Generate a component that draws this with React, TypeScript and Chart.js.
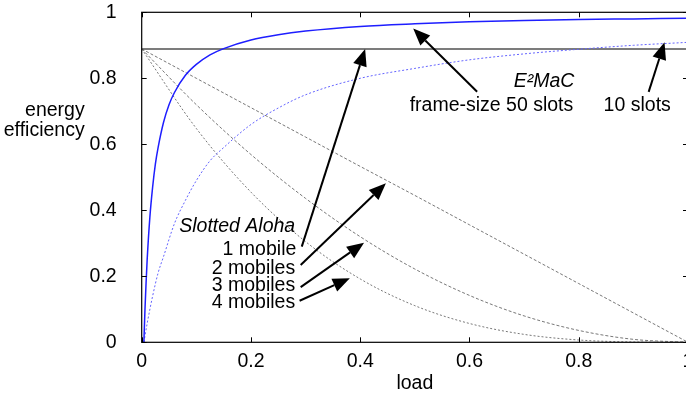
import React, { useEffect, useRef } from "react";
import { Chart, registerables } from "chart.js";

Chart.register(...registerables);

// E2MaC, frame-size 50 slots
const load50 = [0.004, 0.006, 0.008, 0.01, 0.015, 0.02, 0.025, 0.03, 0.04, 0.05, 0.06, 0.08, 0.1, 0.125, 0.15, 0.2, 0.25, 0.3, 0.4, 0.5, 0.6, 0.7, 0.8, 0.9, 1.0];
const eff50 = [0, 0.1, 0.18, 0.25, 0.38, 0.47, 0.54, 0.59, 0.667, 0.72, 0.757, 0.809, 0.842, 0.871, 0.89, 0.916, 0.932, 0.943, 0.957, 0.965, 0.971, 0.975, 0.978, 0.98, 0.982];

// E2MaC, 10 slots
const load10 = [0.004, 0.01, 0.02, 0.03, 0.04, 0.06, 0.08, 0.1, 0.125, 0.15, 0.2, 0.25, 0.3, 0.4, 0.5, 0.6, 0.7, 0.8, 0.9, 1.0];
const eff10 = [0, 0.057, 0.14, 0.21, 0.26, 0.36, 0.43, 0.49, 0.55, 0.59, 0.66, 0.71, 0.75, 0.8, 0.83, 0.856, 0.874, 0.888, 0.9, 0.909];

// Slotted Aloha
const loadAloha = [0, 0.1, 0.2, 0.3, 0.4, 0.5, 0.6, 0.7, 0.8, 0.9, 1.0];
const aloha1 = [0.889, 0.889, 0.889, 0.889, 0.889, 0.889, 0.889, 0.889, 0.889, 0.889, 0.889];
const aloha2 = [0.889, 0.8, 0.711, 0.622, 0.533, 0.445, 0.356, 0.267, 0.178, 0.089, 0];
const aloha3 = [0.889, 0.72, 0.569, 0.436, 0.32, 0.222, 0.142, 0.08, 0.036, 0.009, 0];
const aloha4 = [0.889, 0.648, 0.455, 0.305, 0.192, 0.111, 0.057, 0.024, 0.007, 0.001, 0];

const xTicks = [0, 0.2, 0.4, 0.6, 0.8, 1];
const yTicks = [0, 0.2, 0.4, 0.6, 0.8, 1];

const xTitle = "load";
const yTitleLines = ["energy", "efficiency"];

const FONT = '"Liberation Sans", Arial, sans-serif';
const FS = 19.5;

// annotation texts (data coordinates)
const notes = [
  { text: "Slotted Aloha", x: 0.281, y: 0.352, align: "right", italic: true },
  { text: "1 mobile", x: 0.283, y: 0.282, align: "right", italic: false },
  { text: "2 mobiles", x: 0.281, y: 0.224, align: "right", italic: false },
  { text: "3 mobiles", x: 0.281, y: 0.171, align: "right", italic: false },
  { text: "4 mobiles", x: 0.281, y: 0.12, align: "right", italic: false },
  { text: "E\u00B2MaC", x: 0.792, y: 0.79, align: "right", italic: true },
  { text: "frame-size 50 slots", x: 0.79, y: 0.716, align: "right", italic: false },
  { text: "10 slots", x: 0.907, y: 0.716, align: "center", italic: false },
];

const arrows = [
  { from: [0.293, 0.29], to: [0.409, 0.889] },
  { from: [0.291, 0.234], to: [0.447, 0.482] },
  { from: [0.291, 0.167], to: [0.407, 0.302] },
  { from: [0.289, 0.126], to: [0.381, 0.194] },
  { from: [0.614, 0.759], to: [0.497, 0.951] },
  { from: [0.928, 0.759], to: [0.957, 0.909] },
];

const pts = (xs: number[], ys: number[]) => xs.map((x, i) => ({ x, y: ys[i] }));

const overlay = {
  id: "overlay",
  afterDraw(chart: any) {
    const { ctx, chartArea: a, scales } = chart;
    const xs = scales.x;
    const ys = scales.y;
    ctx.save();
    // frame
    ctx.strokeStyle = "#000";
    ctx.lineWidth = 1.2;
    ctx.strokeRect(a.left, a.top, a.right - a.left, a.bottom - a.top);
    // inward ticks
    ctx.lineWidth = 1;
    const tl = 5;
    ctx.beginPath();
    xTicks.forEach((v) => {
      const px = Math.round(xs.getPixelForValue(v)) + 0.5;
      ctx.moveTo(px, a.bottom);
      ctx.lineTo(px, a.bottom - tl);
      ctx.moveTo(px, a.top);
      ctx.lineTo(px, a.top + tl);
    });
    yTicks.forEach((v) => {
      const py = Math.round(ys.getPixelForValue(v)) + 0.5;
      ctx.moveTo(a.left, py);
      ctx.lineTo(a.left + tl, py);
      ctx.moveTo(a.right, py);
      ctx.lineTo(a.right - tl, py);
    });
    ctx.stroke();

    // y title (horizontal, two lines)
    ctx.fillStyle = "#000";
    ctx.font = `${FS}px ${FONT}`;
    ctx.textAlign = "right";
    ctx.textBaseline = "middle";
    const titleY = [0.703, 0.64];
    yTitleLines.forEach((t, i) => {
      ctx.fillText(t, a.left - 57, ys.getPixelForValue(titleY[i]));
    });

    // annotation texts
    notes.forEach((n) => {
      ctx.font = `${n.italic ? "italic " : ""}${FS}px ${FONT}`;
      ctx.textAlign = n.align as CanvasTextAlign;
      ctx.fillText(n.text, xs.getPixelForValue(n.x), ys.getPixelForValue(n.y));
    });

    // arrows
    ctx.strokeStyle = "#000";
    ctx.fillStyle = "#000";
    ctx.lineWidth = 2;
    arrows.forEach((ar) => {
      const x1 = xs.getPixelForValue(ar.from[0]);
      const y1 = ys.getPixelForValue(ar.from[1]);
      const x2 = xs.getPixelForValue(ar.to[0]);
      const y2 = ys.getPixelForValue(ar.to[1]);
      const ang = Math.atan2(y2 - y1, x2 - x1);
      const hl = 17;
      const hw = 7;
      const bx = x2 - hl * Math.cos(ang);
      const by = y2 - hl * Math.sin(ang);
      ctx.beginPath();
      ctx.moveTo(x1, y1);
      ctx.lineTo(bx, by);
      ctx.stroke();
      ctx.beginPath();
      ctx.moveTo(x2, y2);
      ctx.lineTo(bx + hw * Math.sin(ang), by - hw * Math.cos(ang));
      ctx.lineTo(bx - hw * Math.sin(ang), by + hw * Math.cos(ang));
      ctx.closePath();
      ctx.fill();
    });
    ctx.restore();
  },
};

export default function App() {
  const ref = useRef<HTMLCanvasElement | null>(null);

  useEffect(() => {
    if (!ref.current) return;
    const grey = "rgb(120,120,120)";
    const chart = new Chart(ref.current, {
      type: "scatter",
      data: {
        datasets: [
          {
            label: "E2MaC frame-size 50 slots",
            data: pts(load50, eff50),
            showLine: true,
            borderColor: "rgb(30,30,255)",
            borderWidth: 1.5,
            pointRadius: 0,
            cubicInterpolationMode: "monotone",
          },
          {
            label: "E2MaC 10 slots",
            data: pts(load10, eff10),
            showLine: true,
            borderColor: "rgb(100,100,255)",
            borderWidth: 1,
            borderDash: [2, 2],
            pointRadius: 0,
            cubicInterpolationMode: "monotone",
          },
          {
            label: "Slotted Aloha 1 mobile",
            data: pts(loadAloha, aloha1),
            showLine: true,
            borderColor: "rgb(80,80,80)",
            borderWidth: 1.5,
            pointRadius: 0,
          },
          {
            label: "Slotted Aloha 2 mobiles",
            data: pts(loadAloha, aloha2),
            showLine: true,
            borderColor: grey,
            borderWidth: 1,
            borderDash: [3, 2],
            pointRadius: 0,
          },
          {
            label: "Slotted Aloha 3 mobiles",
            data: pts(loadAloha, aloha3),
            showLine: true,
            borderColor: grey,
            borderWidth: 1,
            borderDash: [3, 2],
            pointRadius: 0,
            cubicInterpolationMode: "monotone",
          },
          {
            label: "Slotted Aloha 4 mobiles",
            data: pts(loadAloha, aloha4),
            showLine: true,
            borderColor: grey,
            borderWidth: 1,
            borderDash: [2, 2],
            pointRadius: 0,
            cubicInterpolationMode: "monotone",
          },
        ],
      },
      options: {
        animation: false,
        responsive: false,
        devicePixelRatio: 1,
        layout: { padding: { left: 0, right: 12, top: 12.3, bottom: 0 } },
        plugins: {
          legend: { display: false },
          tooltip: { enabled: false },
        },
        scales: {
          x: {
            type: "linear",
            min: 0,
            max: 1,
            grid: { display: false, drawTicks: false },
            border: { display: false },
            afterBuildTicks: (s: any) => {
              s.ticks = xTicks.map((v) => ({ value: v }));
            },
            afterFit: (s: any) => {
              s.height = 52.7;
              s.paddingLeft = 0;
              s.paddingRight = 0;
            },
            ticks: {
              color: "#000",
              font: { family: FONT, size: FS },
              padding: 8,
              maxRotation: 0,
              autoSkip: false,
              callback: (v: any) => String(v),
            },
            title: {
              display: true,
              text: xTitle,
              color: "#000",
              font: { family: FONT, size: FS },
              padding: { top: 0, bottom: 0 },
            },
          },
          y: {
            type: "linear",
            min: 0,
            max: 1,
            grid: { display: false, drawTicks: false },
            border: { display: false },
            afterBuildTicks: (s: any) => {
              s.ticks = yTicks.map((v) => ({ value: v }));
            },
            afterFit: (s: any) => {
              s.width = 141.7;
              s.paddingTop = 0;
              s.paddingBottom = 0;
            },
            ticks: {
              color: "#000",
              font: { family: FONT, size: FS },
              padding: 25,
              autoSkip: false,
              callback: (v: any) => String(v),
            },
          },
        },
      },
      plugins: [overlay],
    });
    return () => chart.destroy();
  }, []);

  return (
    <div style={{ position: "fixed", left: 0, top: 0, width: 686, height: 395, overflow: "hidden", background: "#fff" }}>
      <canvas ref={ref} width={700} height={395} style={{ width: 700, height: 395, display: "block" }} />
    </div>
  );
}
